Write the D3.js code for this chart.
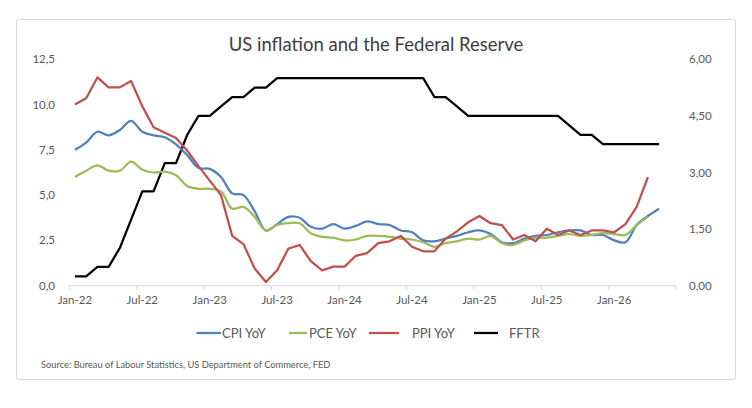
<!DOCTYPE html>
<html>
<head>
<meta charset="utf-8">
<script src="https://cdn.jsdelivr.net/npm/d3@7"></script>
<style>
  body { margin: 0; background: #fff; }
  text { font-family: Lato, "Open Sans", sans-serif; fill: #595959; }
</style>
</head>
<body>
<div id="chart"></div>
<script>
// monthly categories Jan-22 .. Jun-26
var months = d3.utcMonths(new Date(Date.UTC(2022, 0, 1)), new Date(Date.UTC(2026, 6, 1)));
var tickLabels = ["Jan-22", "Jul-22", "Jan-23", "Jul-23", "Jan-24", "Jul-24", "Jan-25", "Jul-25", "Jan-26"];
var leftTicks = [0, 2.5, 5, 7.5, 10, 12.5];
var rightTicks = [0, 1.5, 3, 4.5, 6];

var cpi = [7.5, 7.9, 8.5, 8.3, 8.6, 9.1, 8.5, 8.3, 8.2, 7.8, 7.2, 6.5,
  6.45, 6.0, 5.1, 5.0, 4.1, 3.05, 3.4, 3.8, 3.75, 3.25, 3.15, 3.4,
  3.15, 3.3, 3.55, 3.4, 3.35, 3.05, 2.95, 2.5, 2.45, 2.6, 2.75, 2.95,
  3.05, 2.85, 2.4, 2.35, 2.6, 2.75, 2.8, 2.95, 3.05, 3.05, 2.8, 2.8,
  2.5, 2.4, 3.35, 3.85, 4.25];
var pce = [6.0, 6.35, 6.65, 6.35, 6.35, 6.85, 6.4, 6.25, 6.3, 6.1, 5.5, 5.35,
  5.35, 5.2, 4.25, 4.35, 3.8, 3.05, 3.35, 3.45, 3.45, 2.9, 2.7, 2.65,
  2.5, 2.55, 2.75, 2.75, 2.7, 2.6, 2.55, 2.4, 2.15, 2.35, 2.45, 2.6,
  2.55, 2.75, 2.35, 2.25, 2.5, 2.65, 2.65, 2.75, 2.85, 2.75, 2.8, 2.9,
  2.85, 2.8, 3.35, 3.8];
var ppi = [10.0, 10.35, 11.5, 10.95, 10.95, 11.3, 9.9, 8.75, 8.45, 8.15, 7.45, 6.6,
  5.8, 5.0, 2.75, 2.3, 0.95, 0.2, 0.85, 2.05, 2.25, 1.35, 0.85, 1.05,
  1.05, 1.65, 1.8, 2.35, 2.45, 2.75, 2.15, 1.9, 1.9, 2.6, 3.0, 3.5,
  3.85, 3.45, 3.35, 2.55, 2.8, 2.45, 3.15, 2.8, 3.05, 2.8, 3.05, 3.05,
  2.95, 3.4, 4.35, 6.0];
var fftr = [0.25, 0.25, 0.5, 0.5, 1.0, 1.75, 2.5, 2.5, 3.25, 3.25, 4.0, 4.5,
  4.5, 4.75, 5.0, 5.0, 5.25, 5.25, 5.5, 5.5, 5.5, 5.5, 5.5, 5.5,
  5.5, 5.5, 5.5, 5.5, 5.5, 5.5, 5.5, 5.5, 5.0, 5.0, 4.75, 4.5,
  4.5, 4.5, 4.5, 4.5, 4.5, 4.5, 4.5, 4.5, 4.25, 4.0, 4.0, 3.75,
  3.75, 3.75, 3.75, 3.75, 3.75];

var width = 752, height = 408;
var fmtMonth = d3.utcFormat("%b-%y");

var svg = d3.select("#chart").append("svg")
  .attr("width", width)
  .attr("height", height);

// light frame round the chart
svg.append("rect")
  .attr("x", 16.5).attr("y", 19.5)
  .attr("width", 719).attr("height", 360)
  .attr("rx", 2)
  .attr("fill", "none")
  .attr("stroke", "#d9d9d9");

var x = d3.scaleBand()
  .domain(months.map(fmtMonth))
  .range([69.3, 676])
  .padding(0);

var yL = d3.scaleLinear().domain([0, 12.5]).range([285.7, 59.3]);
var yR = d3.scaleLinear().domain([0, 6]).range([285.7, 59.3]);

function cx(i) { return x(fmtMonth(months[i])) + x.bandwidth() / 2; }

svg.append("text")
  .attr("x", 376).attr("y", 51)
  .attr("text-anchor", "middle")
  .style("font-size", "18.5px")
  .style("fill", "#404040")
  .text("US inflation and the Federal Reserve");

// x axis line, ticks at category boundaries every 6 months
var axisG = svg.append("g");
axisG.append("line")
  .attr("x1", x.range()[0]).attr("x2", x.range()[1])
  .attr("y1", 285.7).attr("y2", 285.7)
  .attr("stroke", "#d9d9d9");

var tickPos = tickLabels.map(function(d) { return x(d); }).concat([x.range()[1]]);
axisG.selectAll("line.tick").data(tickPos).enter().append("line")
  .attr("class", "tick")
  .attr("x1", function(d) { return d; }).attr("x2", function(d) { return d; })
  .attr("y1", 285.7).attr("y2", 290)
  .attr("stroke", "#d9d9d9");

axisG.selectAll("text.xlab").data(tickLabels).enter().append("text")
  .attr("class", "xlab")
  .attr("x", function(d) { return x(d) + x.bandwidth() / 2; })
  .attr("y", 304)
  .attr("text-anchor", "middle")
  .style("font-size", "11.5px")
  .text(function(d) { return d; });

svg.selectAll("text.ylab").data(leftTicks).enter().append("text")
  .attr("class", "ylab")
  .attr("x", 55)
  .attr("y", function(d) { return yL(d) + 4; })
  .attr("text-anchor", "end")
  .style("font-size", "11.5px")
  .text(function(d) { return d3.format(".1f")(d).replace(".", ","); });

svg.selectAll("text.y2lab").data(rightTicks).enter().append("text")
  .attr("class", "y2lab")
  .attr("x", 689)
  .attr("y", function(d) { return yR(d) + 4; })
  .attr("text-anchor", "start")
  .style("font-size", "11.5px")
  .text(function(d) { return d3.format(".2f")(d).replace(".", ","); });

var smooth = d3.line()
  .x(function(d, i) { return cx(i); })
  .y(function(d) { return yL(d); })
  .curve(d3.curveCatmullRom.alpha(0.5));

var straight = d3.line()
  .x(function(d, i) { return cx(i); })
  .y(function(d) { return yL(d); });

var stepLine = d3.line()
  .x(function(d, i) { return cx(i); })
  .y(function(d) { return yR(d); });

var series = [
  { name: "CPI YoY", data: cpi, color: "#4F81BD", gen: smooth },
  { name: "PCE YoY", data: pce, color: "#9BBB59", gen: smooth },
  { name: "PPI YoY", data: ppi, color: "#C0504D", gen: straight },
  { name: "FFTR", data: fftr, color: "#000000", gen: stepLine }
];

// draw in the order Excel stacks them: black under the rest
[series[3], series[0], series[1], series[2]].forEach(function(s) {
  svg.append("path")
    .datum(s.data)
    .attr("fill", "none")
    .attr("stroke", s.color)
    .attr("stroke-width", 2.25)
    .attr("stroke-linejoin", "round")
    .attr("d", s.gen);
});

// legend
var legendPos = [[196.5, 221, 222], [289, 307, 309], [369, 399, 412], [474, 498, 509]];
var lg = svg.append("g");
series.forEach(function(s, i) {
  var p = legendPos[i];
  lg.append("line")
    .attr("x1", p[0]).attr("x2", p[1])
    .attr("y1", 333).attr("y2", 333)
    .attr("stroke", s.color)
    .attr("stroke-width", 2.25);
  lg.append("text")
    .attr("x", p[2]).attr("y", 337.5)
    .style("font-size", "13px")
    .text(s.name);
});

svg.append("text")
  .attr("x", 41).attr("y", 368)
  .style("font-size", "9.3px")
  .text("Source: Bureau of Labour Statistics, US Department of Commerce, FED");
</script>
</body>
</html>
